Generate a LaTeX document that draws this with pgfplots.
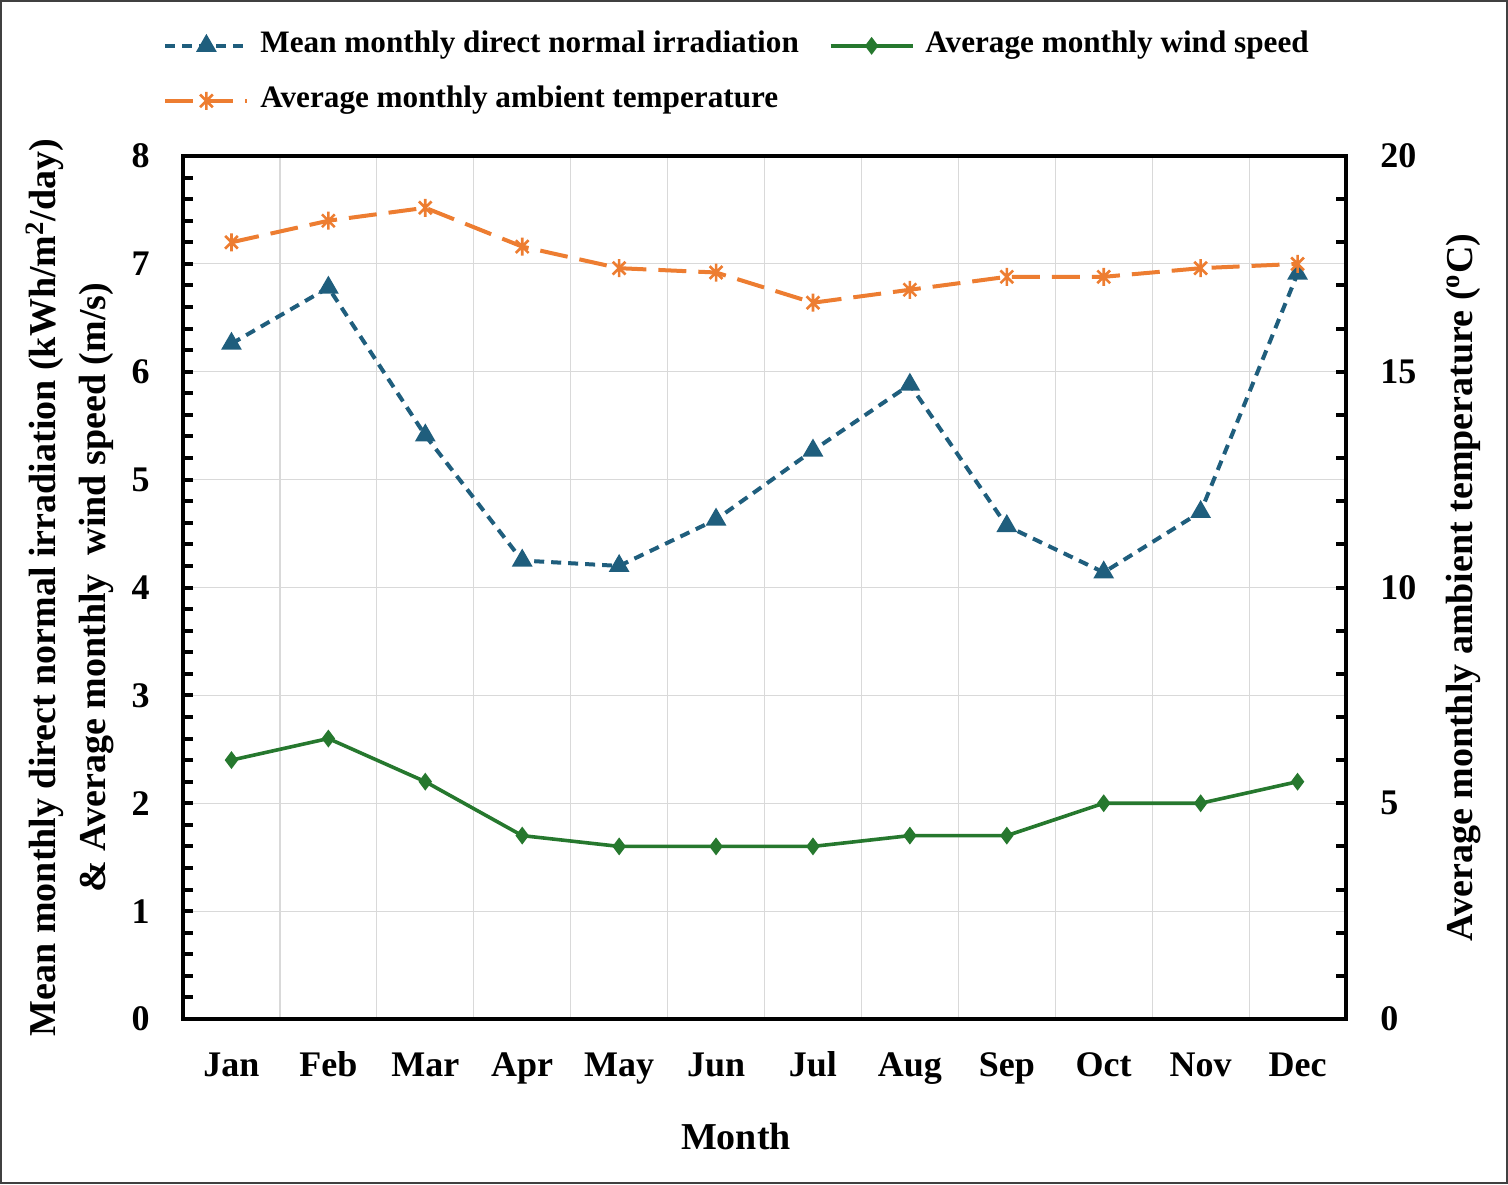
\documentclass[border=0pt]{standalone}
\usepackage{pgfplots}
\pgfplotsset{compat=1.18}
\usepackage{fontspec}
\setmainfont{Liberation Serif}
\definecolor{dniblue}{RGB}{31,94,125}
\definecolor{windgreen}{RGB}{38,120,46}
\definecolor{temporange}{RGB}{237,125,49}
\definecolor{gridgray}{RGB}{217,217,217}
\pgfdeclareplotmark{xstar}{%
 \pgfpathmoveto{\pgfqpoint{0pt}{\pgfplotmarksize}}\pgfpathlineto{\pgfqpoint{0pt}{-\pgfplotmarksize}}%
 \pgfpathmoveto{\pgfqpoint{-.7071\pgfplotmarksize}{.7071\pgfplotmarksize}}\pgfpathlineto{\pgfqpoint{.7071\pgfplotmarksize}{-.7071\pgfplotmarksize}}%
 \pgfpathmoveto{\pgfqpoint{-.7071\pgfplotmarksize}{-.7071\pgfplotmarksize}}\pgfpathlineto{\pgfqpoint{.7071\pgfplotmarksize}{.7071\pgfplotmarksize}}%
 \pgfusepathqstroke}
\pgfplotsset{
  dnistyle/.style={dniblue, line width=2pt, dash pattern=on 5pt off 3.5pt, mark=triangle*, mark size=4pt, mark options={solid, fill=dniblue}},
  windstyle/.style={windgreen, line width=1.8pt, solid, mark=diamond*, mark size=3pt, mark options={solid, fill=windgreen}},
  tempstyle/.style={temporange, line width=2pt, dash pattern=on 14pt off 6pt, mark=xstar, mark size=4.5pt, mark options={solid, line width=1.3pt}},
  common/.style={
    at={(91.5pt,82.5pt)}, anchor=south west,
    scale only axis, width=581.5pt, height=431.5pt,
    xmin=-0.5, xmax=11.5,
    tick align=inside,
    major tick length=5pt, minor tick length=5pt,
    tick style={black, line width=2pt},
    ticklabel style={font=\fontsize{18}{20}\selectfont\bfseries},
    /pgf/number format/assume math mode=true,
    label style={font=\fontsize{19}{25}\selectfont\bfseries},
    axis line style={black, line width=2.25pt},
  },
}
\begin{document}
\begin{tikzpicture}
\path[use as bounding box] (0,0) rectangle (754pt,592pt);
\begin{axis}[common,
  ymin=0, ymax=8,
  xtick={0,...,11},
  xticklabels={Jan,Feb,Mar,Apr,May,Jun,Jul,Aug,Sep,Oct,Nov,Dec},
  major x tick style={draw=none},
  minor xtick={0.5,1.5,...,10.5},
  minor x tick style={draw=none},
  xminorgrids, minor x grid style={gridgray, line width=0.6pt},
  ytick={0,...,8}, minor y tick num=4,
  ymajorgrids, major y grid style={gridgray, line width=0.6pt},
  ytick pos=left, xtick pos=bottom,
  xticklabel style={anchor=base, yshift=-28.5pt},
  yticklabel style={anchor=east, inner sep=0pt, xshift=-16.5pt},
  ylabel={Mean monthly direct normal irradiation (kWh/m\textsuperscript{2}/day)\\\& Average monthly \ wind speed (m/s)},
  ylabel style={align=center, at={(axis description cs:-0.0972,0.5)}, anchor=center},
  xlabel={Month},
  xlabel style={at={(axis description cs:0.4755,-0.1367)}, anchor=center},
]
\addplot[dnistyle] coordinates {(0,6.26) (1,6.78) (2,5.41) (3,4.25) (4,4.20) (5,4.63) (6,5.27) (7,5.88) (8,4.57) (9,4.14) (10,4.70) (11,6.91)};
\addplot[windstyle] coordinates {(0,2.4) (1,2.6) (2,2.2) (3,1.7) (4,1.6) (5,1.6) (6,1.6) (7,1.7) (8,1.7) (9,2.0) (10,2.0) (11,2.2)};
\end{axis}
\begin{axis}[common,
  ymin=0, ymax=20,
  axis x line=none, axis y line*=right,
  ytick={0,5,...,20}, minor y tick num=4,
  yticklabel style={anchor=west, inner sep=0pt, xshift=17pt},
  ylabel={Average monthly ambient temperature (\textsuperscript{o}C)},
  ylabel style={at={(axis description cs:1.1006,0.5)}, anchor=center, rotate=0},
  legend columns=2,
  legend cell align=left,
  legend style={draw=none, fill=none, at={(axis description cs:-0.0172,1.1437)}, anchor=north west,
    font=\fontsize{15.6}{18}\selectfont\bfseries, inner sep=0pt,
    row sep=14pt,
    nodes={inner sep=0pt, text height=10pt, text depth=3.5pt},
    /tikz/every even column/.append style={column sep=15pt},
    /tikz/every odd column/.append style={column sep=5.5pt}},
  legend image code/.code={\draw[mark repeat=2, mark phase=2, #1] plot coordinates {(0pt,0pt) (20.5pt,0pt) (41pt,0pt)};},
]
\addlegendimage{dnistyle}
\addlegendentry{Mean monthly direct normal irradiation}
\addlegendimage{windstyle}
\addlegendentry{Average monthly wind speed}
\addplot[tempstyle] coordinates {(0,18.0) (1,18.5) (2,18.8) (3,17.9) (4,17.4) (5,17.3) (6,16.6) (7,16.9) (8,17.2) (9,17.2) (10,17.4) (11,17.5)};
\addlegendentry{Average monthly ambient temperature}
\end{axis}
\draw[black!75, line width=1pt] (0.5pt,0.5pt) rectangle (753.5pt,591.5pt);
\end{tikzpicture}
\end{document}
